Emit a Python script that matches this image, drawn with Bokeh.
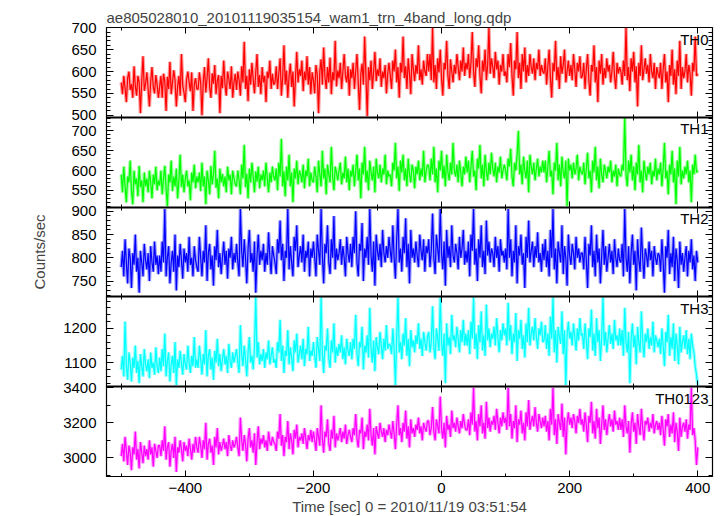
from bokeh.plotting import figure
from bokeh.models import (Range1d, LinearAxis, SingleIntervalTicker, FixedTicker, Label,
                          CustomJSTickFormatter, ColumnDataSource)
from bokeh.embed import file_html
from bokeh.resources import INLINE

# ---------------- data (2 s sampling) ----------------
TIME_START = -500
TIME_STEP = 2

th0 = [
    575, 548, 590, 562, 530, 585, 600, 558, 571, 540, 612, 566, 545, 590, 575, 505, 580, 635, 556, 572, 598, 560, 520, 578, 610, 565, 550, 592, 570, 540,
    565, 590, 540, 595, 578, 510, 588, 560, 622, 548, 575, 603, 580, 520, 566, 590, 545, 640, 568, 552, 530, 582, 600, 575, 555, 598, 510, 570, 585, 560,
    560, 598, 575, 500, 575, 610, 552, 585, 630, 565, 540, 596, 572, 615, 548, 580, 592, 505, 590, 562, 625, 570, 545, 600, 583, 560, 612, 540, 575, 595,
    558, 600, 580, 545, 612, 575, 668, 560, 590, 532, 605, 570, 620, 583, 550, 598, 640, 565, 592, 548, 610, 575, 590, 530, 600, 585, 625, 560, 595, 570,
    575, 612, 560, 596, 630, 545, 585, 660, 570, 602, 540, 590, 618, 565, 600, 520, 585, 645, 575, 605, 590, 625, 555, 600, 580, 635, 570, 610, 548, 598,
    580, 550, 615, 592, 505, 600, 628, 570, 655, 588, 560, 610, 575, 632, 548, 598, 580, 670, 566, 602, 585, 620, 560, 600, 640, 590, 575, 612, 545, 605,
    585, 620, 560, 600, 640, 575, 512, 595, 618, 570, 680, 590, 498, 610, 580, 625, 560, 600, 645, 578, 605, 590, 630, 565, 600, 585, 615, 550, 595, 620,
    590, 560, 625, 600, 650, 575, 610, 540, 620, 598, 680, 585, 612, 560, 630, 595, 548, 640, 605, 578, 615, 595, 660, 580, 605, 570, 625, 600, 590, 640,
    600, 640, 580, 700, 575, 615, 560, 630, 598, 650, 585, 545, 620, 605, 670, 590, 560, 628, 600, 575, 615, 595, 640, 610, 580, 625, 600, 655, 590, 620,
    605, 640, 585, 620, 690, 600, 565, 630, 610, 660, 590, 550, 625, 600, 650, 580, 615, 700, 595, 630, 610, 585, 645, 605, 625, 570, 615, 600, 640, 590,
    600, 575, 640, 610, 665, 590, 545, 625, 605, 690, 585, 620, 560, 640, 600, 655, 575, 615, 590, 640, 610, 595, 630, 580, 620, 605, 650, 590, 615, 600,
    595, 630, 570, 612, 650, 585, 540, 620, 600, 670, 580, 610, 560, 635, 595, 615, 650, 575, 600, 625, 590, 615, 580, 640, 605, 565, 620, 600, 635, 585,
    590, 620, 560, 605, 640, 580, 545, 615, 600, 660, 575, 610, 530, 625, 595, 640, 570, 608, 585, 630, 600, 615, 575, 600, 645, 590, 560, 620, 595, 610,
    600, 570, 625, 590, 700, 580, 610, 555, 630, 600, 645, 575, 612, 520, 620, 590, 660, 580, 605, 630, 595, 615, 575, 640, 600, 585, 620, 560, 610, 595,
    585, 620, 560, 605, 640, 575, 600, 530, 615, 590, 650, 570, 605, 548, 625, 590, 670, 560, 610, 585, 600, 640, 575, 615, 595, 545, 620, 600, 680, 590,
    595]

th1 = [
    590, 545, 610, 560, 520, 585, 570, 625, 548, 515, 600, 565, 580, 535, 612, 558, 575, 520, 595, 560, 580, 545, 600, 570, 530, 590, 565, 610, 550, 575,
    562, 600, 540, 580, 612, 555, 510, 590, 570, 625, 548, 585, 560, 605, 530, 575, 640, 558, 590, 545, 580, 600, 560, 575, 525, 595, 570, 615, 555, 585,
    570, 595, 548, 620, 560, 585, 515, 600, 575, 540, 612, 565, 590, 650, 556, 580, 530, 605, 570, 592, 560, 585, 545, 610, 575, 590, 540, 600, 580, 565,
    560, 600, 575, 540, 615, 580, 665, 558, 592, 530, 605, 570, 620, 585, 545, 598, 572, 610, 555, 590, 575, 600, 560, 620, 580, 545, 595, 570, 610, 585,
    575, 605, 550, 620, 585, 680, 560, 598, 535, 610, 575, 640, 560, 595, 520, 605, 580, 625, 565, 600, 590, 570, 615, 555, 600, 585, 630, 560, 595, 575,
    570, 610, 585, 545, 625, 590, 560, 650, 580, 605, 540, 615, 590, 570, 660, 585, 550, 610, 595, 575, 600, 620, 565, 595, 580, 635, 570, 605, 550, 600,
    585, 615, 560, 600, 640, 575, 605, 530, 620, 590, 660, 570, 600, 550, 625, 595, 575, 610, 545, 630, 595, 580, 615, 570, 605, 590, 640, 565, 600, 585,
    590, 560, 620, 600, 670, 580, 610, 548, 625, 595, 640, 575, 605, 560, 630, 590, 570, 615, 600, 555, 610, 590, 625, 575, 605, 585, 650, 570, 600, 615,
    610, 575, 630, 590, 660, 570, 605, 545, 625, 600, 650, 580, 612, 560, 640, 595, 575, 620, 590, 670, 600, 585, 615, 570, 625, 595, 560, 610, 590, 635,
    595, 625, 570, 610, 650, 585, 600, 550, 630, 605, 665, 580, 615, 560, 640, 598, 575, 620, 590, 645, 605, 585, 620, 570, 610, 595, 635, 580, 600, 615,
    600, 575, 630, 610, 655, 585, 560, 620, 600, 640, 700, 590, 615, 565, 635, 600, 580, 625, 545, 640, 610, 590, 620, 575, 605, 630, 585, 610, 595, 625,
    595, 625, 570, 610, 650, 585, 600, 540, 620, 600, 670, 575, 615, 560, 635, 595, 580, 625, 510, 630, 600, 615, 580, 620, 590, 605, 640, 575, 610, 595,
    590, 620, 565, 605, 645, 580, 600, 545, 625, 595, 660, 575, 610, 555, 630, 590, 570, 615, 600, 580, 610, 595, 625, 570, 600, 585, 615, 560, 605, 590,
    585, 615, 600, 734, 590, 560, 625, 595, 640, 575, 610, 550, 620, 590, 665, 570, 600, 545, 625, 595, 575, 610, 590, 620, 565, 600, 585, 630, 575, 605,
    590, 620, 560, 605, 670, 580, 600, 540, 615, 590, 650, 570, 605, 515, 625, 585, 660, 565, 600, 580, 610, 590, 625, 570, 600, 520, 615, 590, 640, 595,
    600]

th2 = [
    780, 815, 760, 840, 790, 745, 820, 800, 735, 810, 785, 850, 770, 800, 725, 815, 790, 760, 830, 795, 775, 810, 750, 825, 790, 770, 835, 785, 805, 765,
    805, 770, 835, 790, 905, 760, 800, 825, 745, 790, 815, 770, 850, 730, 805, 780, 830, 795, 755, 820, 790, 810, 770, 845, 785, 800, 760, 825, 795, 780,
    770, 845, 800, 760, 815, 790, 870, 750, 810, 830, 775, 805, 740, 825, 795, 860, 780, 810, 765, 800, 835, 785, 815, 755, 820, 800, 845, 775, 810, 790,
    830, 790, 760, 905, 815, 780, 840, 800, 745, 820, 860, 790, 810, 770, 835, 725, 805, 850, 785, 815, 795, 830, 770, 810, 785, 855, 800, 765, 825, 805,
    790, 765, 840, 810, 880, 795, 830, 750, 815, 800, 905, 775, 825, 790, 760, 845, 815, 870, 780, 805, 825, 790, 850, 770, 815, 800, 835, 760, 820, 800,
    835, 800, 760, 850, 815, 785, 905, 805, 745, 830, 810, 870, 790, 765, 840, 800, 890, 775, 820, 795, 810, 840, 785, 825, 800, 760, 845, 810, 790, 830,
    780, 845, 810, 900, 790, 760, 830, 815, 875, 750, 820, 800, 845, 785, 905, 805, 770, 835, 740, 850, 815, 795, 830, 780, 860, 810, 790, 825, 800, 845,
    815, 790, 870, 800, 755, 840, 905, 790, 820, 770, 845, 810, 885, 780, 830, 745, 860, 800, 820, 790, 835, 805, 780, 850, 815, 795, 840, 770, 825, 810,
    840, 780, 815, 895, 800, 765, 850, 820, 790, 905, 810, 775, 835, 740, 860, 800, 825, 780, 870, 805, 790, 830, 810, 775, 845, 800, 820, 860, 785, 815,
    790, 835, 760, 850, 815, 905, 785, 820, 750, 840, 800, 870, 780, 815, 765, 880, 805, 835, 790, 820, 810, 780, 845, 800, 825, 770, 840, 805, 815, 790,
    820, 775, 905, 800, 840, 760, 815, 790, 870, 745, 825, 805, 850, 785, 810, 735, 845, 800, 880, 790, 815, 835, 780, 825, 800, 855, 790, 810, 770, 830,
    795, 840, 780, 815, 760, 860, 800, 905, 775, 820, 745, 835, 810, 790, 870, 765, 825, 800, 740, 850, 805, 785, 830, 810, 775, 845, 800, 820, 790, 810,
    810, 775, 845, 795, 735, 830, 805, 870, 780, 815, 760, 850, 790, 820, 745, 805, 860, 785, 825, 770, 800, 830, 790, 815, 765, 840, 800, 780, 820, 795,
    790, 830, 760, 905, 800, 770, 825, 745, 810, 850, 785, 815, 730, 840, 795, 770, 865, 800, 755, 820, 805, 780, 835, 795, 815, 760, 825, 800, 785, 810,
    805, 770, 840, 790, 725, 825, 800, 860, 765, 810, 780, 845, 750, 820, 795, 735, 835, 785, 810, 770, 800, 825, 760, 815, 790, 840, 775, 805, 750, 815,
    790]

th3 = [
    1080, 1120, 1060, 1220, 1090, 1050, 1130, 1100, 1045, 1115, 1085, 1150, 1070, 1105, 1040, 1125, 1090, 1060, 1140, 1095, 1075, 1110, 1055, 1130, 1085, 1100, 1065, 1145, 1090, 1070,
    1115, 1075, 1140, 1090, 1185, 1060, 1105, 1130, 1045, 1095, 1120, 1070, 1160, 1035, 1110, 1085, 1135, 1100, 1065, 1125, 1095, 1080, 1150, 1100, 1070, 1120, 1090, 1175, 1085, 1110,
    1085, 1150, 1110, 1065, 1125, 1095, 1195, 1060, 1120, 1140, 1080, 1115, 1050, 1135, 1100, 1170, 1090, 1125, 1075, 1110, 1140, 1095, 1120, 1070, 1155, 1105, 1085, 1130, 1100, 1120,
    1140, 1100, 1070, 1210, 1125, 1090, 1150, 1110, 1060, 1130, 1175, 1100, 1120, 1080, 1145, 1290, 1115, 1160, 1095, 1125, 1105, 1140, 1085, 1130, 1110, 1165, 1095, 1120, 1145, 1100,
    1110, 1085, 1160, 1130, 1225, 1105, 1150, 1070, 1135, 1120, 1195, 1095, 1145, 1115, 1075, 1165, 1130, 1185, 1100, 1125, 1150, 1110, 1170, 1090, 1140, 1125, 1205, 1105, 1135, 1120,
    1160, 1120, 1085, 1175, 1140, 1105, 1290, 1125, 1070, 1150, 1135, 1200, 1110, 1085, 1165, 1130, 1215, 1100, 1145, 1120, 1155, 1130, 1180, 1110, 1145, 1095, 1170, 1135, 1120, 1160,
    1110, 1170, 1140, 1240, 1125, 1090, 1160, 1145, 1205, 1080, 1150, 1130, 1180, 1115, 1260, 1140, 1100, 1165, 1075, 1175, 1145, 1125, 1190, 1150, 1110, 1170, 1135, 1210, 1140, 1155,
    1150, 1125, 1200, 1140, 1035, 1175, 1290, 1130, 1160, 1110, 1185, 1150, 1230, 1120, 1170, 1090, 1195, 1145, 1165, 1130, 1180, 1155, 1215, 1140, 1170, 1120, 1190, 1160, 1135, 1175,
    1190, 1130, 1160, 1265, 1145, 1110, 1200, 1170, 1135, 1290, 1160, 1120, 1185, 1040, 1215, 1150, 1175, 1125, 1240, 1165, 1180, 1145, 1205, 1170, 1130, 1195, 1160, 1225, 1150, 1185,
    1150, 1195, 1125, 1220, 1170, 1290, 1140, 1185, 1110, 1210, 1160, 1250, 1135, 1180, 1120, 1270, 1165, 1200, 1145, 1185, 1170, 1205, 1150, 1230, 1175, 1130, 1195, 1165, 1215, 1180,
    1200, 1150, 1275, 1165, 1210, 1125, 1185, 1160, 1245, 1105, 1195, 1170, 1225, 1140, 1180, 1115, 1215, 1160, 1260, 1150, 1185, 1205, 1165, 1230, 1175, 1140, 1200, 1180, 1220, 1160,
    1165, 1210, 1140, 1185, 1120, 1235, 1170, 1290, 1130, 1195, 1100, 1205, 1175, 1155, 1250, 1125, 1195, 1035, 1180, 1220, 1170, 1190, 1150, 1215, 1175, 1135, 1200, 1165, 1230, 1180,
    1185, 1140, 1215, 1165, 1110, 1200, 1175, 1255, 1135, 1185, 1120, 1230, 1160, 1195, 1105, 1175, 1290, 1150, 1190, 1130, 1170, 1210, 1155, 1185, 1140, 1225, 1165, 1180, 1150, 1200,
    1150, 1195, 1120, 1260, 1160, 1130, 1190, 1040, 1170, 1215, 1145, 1180, 1095, 1205, 1160, 1130, 1250, 1165, 1115, 1185, 1160, 1200, 1140, 1175, 1150, 1220, 1130, 1180, 1165, 1145,
    1170, 1125, 1200, 1150, 1090, 1190, 1160, 1240, 1120, 1175, 1140, 1215, 1105, 1185, 1150, 1095, 1205, 1130, 1160, 1180, 1140, 1195, 1125, 1170, 1110, 1185, 1150, 1130, 1090, 1065,
    1035]

th0123 = [
    3010, 3080, 2980, 3120, 3040, 2960, 3070, 3030, 2930, 3060, 3020, 3150, 2990, 3050, 2940, 3090, 3030, 2970, 3070, 3010, 3050, 2990, 3100, 3020, 3060, 2950, 3080, 3040, 3000, 3070,
    3070, 3010, 3100, 3040, 3180, 2990, 3060, 3090, 2950, 3040, 3080, 3000, 3120, 2920, 3060, 3030, 3100, 3050, 2980, 3090, 3040, 3070, 3010, 3110, 3050, 2990, 3080, 3030, 3120, 3060,
    3030, 3120, 3070, 3000, 3100, 3050, 3200, 2990, 3080, 3110, 3030, 3070, 2960, 3120, 3060, 3170, 3020, 3090, 3040, 3070, 3110, 3050, 3090, 3010, 3130, 3070, 3040, 3100, 3060, 3080,
    3120, 3060, 3010, 3230, 3100, 3040, 3130, 3080, 2980, 3110, 3170, 3060, 3100, 3030, 3140, 2960, 3090, 3180, 3050, 3110, 3080, 3130, 3060, 3100, 3040, 3150, 3090, 3070, 3120, 3090,
    3080, 3040, 3150, 3110, 3250, 3070, 3130, 3010, 3120, 3090, 3210, 3050, 3140, 3100, 3020, 3160, 3110, 3190, 3060, 3120, 3100, 3140, 3080, 3170, 3110, 3050, 3130, 3100, 3160, 3090,
    3150, 3100, 3040, 3170, 3120, 3070, 3300, 3110, 3030, 3150, 3120, 3220, 3080, 3040, 3160, 3110, 3240, 3060, 3140, 3100, 3130, 3170, 3090, 3150, 3110, 3190, 3080, 3130, 3160, 3120,
    3090, 3170, 3130, 3250, 3110, 3060, 3160, 3140, 3230, 3050, 3150, 3120, 3190, 3100, 3280, 3130, 3070, 3170, 3020, 3180, 3140, 3110, 3200, 3150, 3120, 3170, 3090, 3160, 3130, 3190,
    3150, 3110, 3210, 3140, 3050, 3190, 3300, 3130, 3170, 3090, 3200, 3150, 3270, 3110, 3180, 3060, 3220, 3140, 3170, 3120, 3190, 3160, 3230, 3140, 3180, 3100, 3200, 3170, 3150, 3210,
    3210, 3130, 3170, 3290, 3150, 3100, 3220, 3180, 3140, 3350, 3170, 3110, 3200, 3060, 3240, 3160, 3190, 3120, 3270, 3170, 3200, 3150, 3230, 3180, 3140, 3210, 3170, 3250, 3190, 3160,
    3160, 3220, 3130, 3260, 3190, 3400, 3150, 3210, 3100, 3250, 3180, 3300, 3140, 3200, 3110, 3320, 3170, 3230, 3150, 3210, 3190, 3240, 3160, 3280, 3200, 3140, 3230, 3180, 3260, 3200,
    3230, 3160, 3400, 3180, 3250, 3110, 3210, 3170, 3300, 3090, 3220, 3190, 3270, 3140, 3200, 3100, 3260, 3180, 3330, 3160, 3210, 3240, 3180, 3290, 3200, 3150, 3250, 3210, 3170, 3230,
    3180, 3240, 3150, 3210, 3100, 3280, 3190, 3400, 3130, 3220, 3080, 3250, 3200, 3160, 3310, 3120, 3230, 3020, 3200, 3260, 3190, 3230, 3170, 3250, 3210, 3140, 3240, 3200, 3280, 3190,
    3220, 3150, 3260, 3190, 3090, 3240, 3200, 3320, 3140, 3210, 3110, 3280, 3170, 3230, 3080, 3190, 3300, 3160, 3220, 3130, 3200, 3250, 3180, 3220, 3150, 3270, 3190, 3210, 3160, 3230,
    3160, 3220, 3120, 3300, 3180, 3140, 3210, 3030, 3190, 3260, 3150, 3200, 3080, 3250, 3180, 3130, 3280, 3170, 3100, 3210, 3190, 3230, 3150, 3200, 3170, 3250, 3140, 3190, 3210, 3160,
    3200, 3130, 3240, 3160, 3070, 3220, 3180, 3250, 3120, 3190, 3140, 3260, 3090, 3200, 3150, 3040, 3230, 3120, 3180, 3200, 3150, 3220, 3110, 3190, 3160, 3400, 3130, 3170, 3100, 2960,
    3060]

panel_names = ["TH0", "TH1", "TH2", "TH3", "TH0123"]
panel_series = [th0, th1, th2, th3, th0123]
panel_colors = ["#ff0000", "#00ff00", "#0000ff", "#00ffff", "#ff00ff"]
y_limits = [(495.5, 700.5), (508, 734), (716, 909), (1030, 1292), (2894, 3406)]
y_major = [50, 50, 50, 100, 200]
y_minor_n = [5, 5, 5, 5, 2]
y_tick_labels = [[500, 550, 600, 650, 700], [550, 600, 650, 700],
                 [750, 800, 850, 900], [1100, 1200], [3000, 3200, 3400]]
x_limits = (-523, 423)

title_text = "ae805028010_20101119035154_wam1_trn_4band_long.qdp"
x_label = "Time [sec] 0 = 2010/11/19 03:51:54"
y_label = "Counts/sec"

FONT = "Liberation Sans"
FS = "15px"
minus_fmt = "return (tick < 0 ? '\\u2212' : '') + Math.abs(tick).toFixed(0);"
N = len(panel_names)

p = figure(frame_width=606, frame_height=449,
           x_range=Range1d(*x_limits), y_range=Range1d(0, N),
           output_backend="svg", toolbar_location=None,
           x_axis_location=None, y_axis_location=None,
           min_border_left=106, min_border_right=3,
           min_border_top=27, min_border_bottom=0,
           background_fill_color="white", border_fill_color="white")
p.grid.visible = False
p.outline_line_color = "black"
p.outline_line_width = 1.2

p.title.text = title_text
p.title.align = "left"
p.title.text_font = FONT
p.title.text_font_size = FS
p.title.text_font_style = "normal"
p.title.standoff = 3


def style_axis(ax, show, major_in, minor_in, major_out=0, minor_out=0):
    ax.major_tick_in = major_in
    ax.major_tick_out = major_out
    ax.minor_tick_in = minor_in
    ax.minor_tick_out = minor_out
    ax.axis_line_color = None
    ax.major_tick_line_color = "black"
    ax.minor_tick_line_color = "black"
    ax.major_label_text_font = FONT
    ax.major_label_text_color = "black"
    if show:
        ax.major_label_text_font_size = FS
    else:
        ax.major_label_text_font_size = "0px"
        ax.major_label_standoff = 0
        ax.formatter = CustomJSTickFormatter(code="return '';")


# x axes: bottom (labelled), top, and the shared boundaries between panels
bottom = LinearAxis(ticker=SingleIntervalTicker(interval=200, num_minor_ticks=2))
style_axis(bottom, True, 6, 3)
bottom.formatter = CustomJSTickFormatter(code=minus_fmt)
bottom.major_label_standoff = 6
bottom.axis_label = x_label
bottom.axis_label_text_font = FONT
bottom.axis_label_text_font_size = FS
bottom.axis_label_text_font_style = "normal"
bottom.axis_label_standoff = 2
p.add_layout(bottom, "below")

top = LinearAxis(ticker=SingleIntervalTicker(interval=200, num_minor_ticks=2))
style_axis(top, False, 6, 3)
p.add_layout(top, "above")

for j in range(1, N):
    bx = LinearAxis(ticker=SingleIntervalTicker(interval=200, num_minor_ticks=2),
                    fixed_location=j)
    style_axis(bx, False, 6, 3, 6, 3)
    bx.axis_line_color = "black"
    bx.axis_line_width = 2
    p.add_layout(bx, "below")

# per-panel y ranges, ticks (inside the frame) and data
label_pos = []
label_txt = []
for k in range(N):
    lo, hi = y_limits[k]
    span = hi - lo
    name = "p%d" % k
    p.extra_y_ranges[name] = Range1d(lo - (N - 1 - k) * span, hi + k * span)

    la = LinearAxis(y_range_name=name, bounds=(lo, hi), fixed_location=x_limits[0],
                    ticker=SingleIntervalTicker(interval=y_major[k], num_minor_ticks=y_minor_n[k]))
    style_axis(la, False, 7, 4)
    p.add_layout(la, "left")

    ra = LinearAxis(y_range_name=name, bounds=(lo, hi), fixed_location=x_limits[1],
                    ticker=SingleIntervalTicker(interval=y_major[k], num_minor_ticks=y_minor_n[k]))
    style_axis(ra, False, 7, 4)
    p.add_layout(ra, "right")

    # where each panel's tick value sits on the shared 0..N stacking axis
    for v in y_tick_labels[k]:
        label_pos.append((N - 1 - k) + (v - lo) / span)
        label_txt.append(str(v))

    vals = panel_series[k]
    t = [TIME_START + TIME_STEP * i for i in range(len(vals))]
    src = ColumnDataSource(dict(t=t, v=vals))
    p.line("t", "v", source=src, y_range_name=name, color=panel_colors[k],
           line_width=3.5, line_alpha=0.38)
    p.line("t", "v", source=src, y_range_name=name, color=panel_colors[k], line_width=1.2)

    p.add_layout(Label(x=x_limits[1], y=hi, y_range_name=name, x_offset=-4, y_offset=-3,
                       text=panel_names[k], text_align="right", text_baseline="top",
                       text_font=FONT, text_font_size=FS, text_color="black"))

order = sorted(range(len(label_pos)), key=lambda i: label_pos[i])
pos_sorted = [label_pos[i] for i in order]
txt_sorted = [label_txt[i] for i in order]

# left axis that carries the tick labels of all panels and the y title
lab_axis = LinearAxis(ticker=FixedTicker(ticks=pos_sorted, minor_ticks=[]))
lab_axis.formatter = CustomJSTickFormatter(args=dict(labels=txt_sorted),
                                           code="return labels[index];")
lab_axis.major_tick_in = 0
lab_axis.major_tick_out = 0
lab_axis.minor_tick_in = 0
lab_axis.minor_tick_out = 0
lab_axis.axis_line_color = None
lab_axis.major_label_standoff = 10
lab_axis.major_label_text_font = FONT
lab_axis.major_label_text_font_size = FS
lab_axis.major_label_text_color = "black"
lab_axis.axis_label = y_label
lab_axis.axis_label_text_font = FONT
lab_axis.axis_label_text_font_size = FS
lab_axis.axis_label_text_font_style = "normal"
lab_axis.axis_label_standoff = 12
p.add_layout(lab_axis, "left")

open("out.html", "w").write(file_html(p, INLINE))
